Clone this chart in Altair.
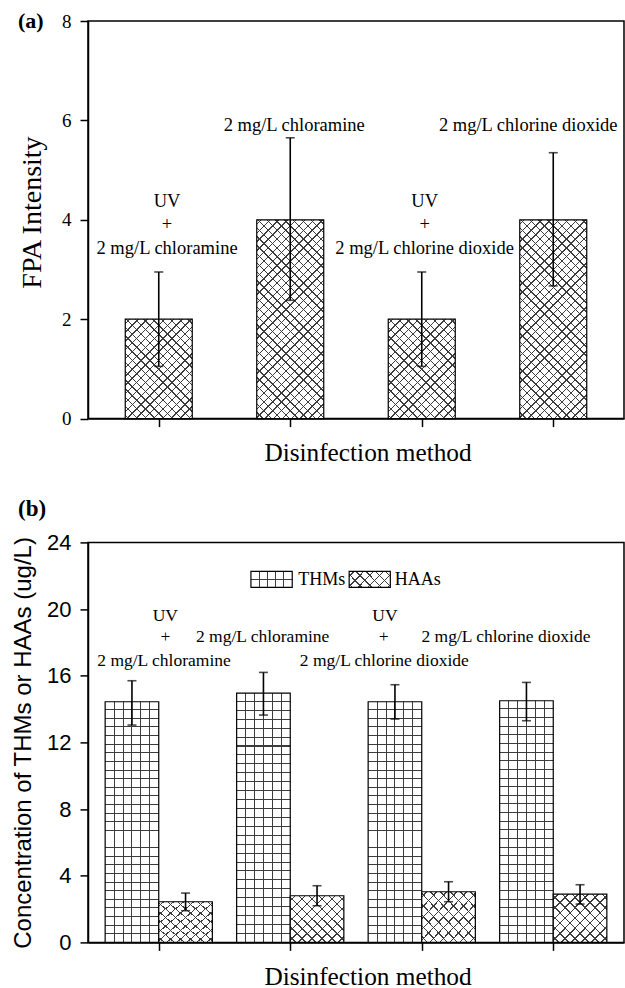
import math
import altair as alt
import pandas as pd

# ---------------- data ----------------
methods = ["UV + 2 mg/L chloramine", "2 mg/L chloramine",
           "UV + 2 mg/L chlorine dioxide", "2 mg/L chlorine dioxide"]
method_idx = [1, 2, 3, 4]

# panel (a): FPA intensity
fpa = [2.0, 4.0, 2.0, 4.0]
fpa_lo = [1.05, 2.38, 1.05, 2.67]
fpa_hi = [2.95, 5.65, 2.95, 5.35]

# panel (b): THMs and HAAs (ug/L)
thms = [14.44, 14.96, 14.44, 14.50]
thms_lo = [13.04, 13.64, 13.40, 13.30]
thms_hi = [15.70, 16.20, 15.46, 15.60]
haas = [2.44, 2.80, 3.04, 2.90]
haas_lo = [1.90, 2.20, 2.44, 2.30]
haas_hi = [2.96, 3.40, 3.64, 3.46]

# annotation texts
lab_text = ["UV", "+", "2 mg/L chloramine", "2 mg/L chloramine",
            "UV", "+", "2 mg/L chlorine dioxide", "2 mg/L chlorine dioxide"]
a_lab_x = [1.063, 1.063, 1.063, 2.03, 3.022, 3.022, 3.022, 3.81]
a_lab_y = [4.38, 3.91, 3.44, 5.90, 4.38, 3.91, 3.44, 5.90]
b_lab_x = [1.05, 1.05, 1.04, 1.79, 2.72, 2.71, 2.715, 3.64]
b_lab_y = [19.6, 18.3, 16.9, 18.3, 19.6, 18.3, 16.9, 18.3]

# legend (panel b)
leg_name = ["THMs", "HAAs"]
leg_x1 = [1.701, 2.448]
leg_x2 = [2.015, 2.761]
leg_y1 = [21.30, 21.30]
leg_y2 = [22.26, 22.26]
leg_tx = [2.06, 2.795]
leg_ty = [21.76, 21.76]

df_a = pd.DataFrame({"idx": method_idx, "method": methods, "v": fpa, "lo": fpa_lo, "hi": fpa_hi})
df_t = pd.DataFrame({"idx": method_idx, "method": methods, "v": thms, "lo": thms_lo, "hi": thms_hi})
df_h = pd.DataFrame({"idx": method_idx, "method": methods, "v": haas, "lo": haas_lo, "hi": haas_hi})
df_la = pd.DataFrame({"t": lab_text, "x": a_lab_x, "y": a_lab_y})
df_lb = pd.DataFrame({"t": lab_text, "x": b_lab_x, "y": b_lab_y})
df_leg = pd.DataFrame({"name": leg_name, "x1": leg_x1, "x2": leg_x2, "y1": leg_y1,
                       "y2": leg_y2, "tx": leg_tx, "ty": leg_ty})

# ---------------- hatch fills (gradient stripes) ----------------
INK = "#3c3c3c"
CLEAR = "rgba(255,255,255,0)"


def _stops(positions, t, bg):
    s = [{"offset": 0, "color": bg}]
    for p in positions:
        lo = round(max(p - t / 2, 0), 5)
        hi = round(min(p + t / 2, 1), 5)
        s += [{"offset": lo, "color": bg}, {"offset": lo, "color": INK},
              {"offset": hi, "color": INK}, {"offset": hi, "color": bg}]
    s.append({"offset": 1, "color": bg})
    return s


def diag_fills(w, h, period, lw=1.0):
    n = (w + h) / period
    L = (w + h) / math.sqrt(2)
    t = lw / L
    c = (w + h) / (w * w + h * h)
    a, b = c * w, c * h
    pos = []
    k = 0
    while (k + 0.5) / n < 1:
        pos.append((k + 0.5) / n)
        k += 1
    g1 = {"gradient": "linear", "x1": 0, "y1": 0, "x2": round(a, 5), "y2": round(b, 5),
          "stops": _stops(pos, t, "white")}
    g2 = {"gradient": "linear", "x1": 1, "y1": 0, "x2": round(1 - a, 5), "y2": round(b, 5),
          "stops": _stops(pos, t, CLEAR)}
    return g1, g2


def grid_fills(w, h, ncol, period, lw=1.0):
    vpos = [i / ncol for i in range(1, ncol)]
    g1 = {"gradient": "linear", "x1": 0, "y1": 0, "x2": 1, "y2": 0,
          "stops": _stops(vpos, lw / w, "white")}
    hpos = []
    k = 1
    while 1 - k * period / h > 0.01:
        hpos.append(1 - k * period / h)
        k += 1
    hpos = sorted(hpos)
    g2 = {"gradient": "linear", "x1": 0, "y1": 0, "x2": 0, "y2": 1,
          "stops": _stops(hpos, lw / h, CLEAR)}
    return g1, g2


SERIF = "Liberation Serif"
SANS = "Liberation Sans"
W = 536
HA = 397.6
HB = 400
STEP = W / 4.0

# ---------------- panel (a) ----------------
xa_axis = alt.Axis(values=[1, 2, 3, 4], labels=False, tickSize=8, title="Disinfection method",
                   titleFont=SERIF, titleFontSize=25.3, titleFontWeight="normal",
                   titlePadding=13, titleX=279.5)
ya_axis = alt.Axis(values=[0, 2, 4, 6, 8], tickSize=8, labelFont=SERIF, labelFontSize=19,
                   labelPadding=9, title="FPA Intensity", titleFont=SERIF, titleFontSize=28,
                   titleFontWeight="normal", titlePadding=15, titleY=191)


def XA(field="idx"):
    return alt.X(f"{field}:Q", scale=alt.Scale(domain=[0.5, 4.5], nice=False), axis=xa_axis,
                 title="Disinfection method")


def YA(field="v"):
    return alt.Y(f"{field}:Q", scale=alt.Scale(domain=[0, 8], nice=False), axis=ya_axis,
                 title="FPA Intensity")


bw_a = 0.5 * STEP
layers_a = []
for val in [2.0, 4.0]:
    g1, g2 = diag_fills(bw_a, val / 8 * HA, 8.8)
    sub = alt.Chart(df_a).transform_filter(f"datum.v == {val}")
    layers_a.append(sub.mark_bar(width=bw_a, fill=g1, strokeWidth=0).encode(x=XA(), y=YA()))
    layers_a.append(sub.mark_bar(width=bw_a, fill=g2, stroke="black", strokeWidth=1.2)
                    .encode(x=XA(), y=YA()))

base_a = alt.Chart(df_a)
layers_a.append(base_a.mark_rule(color="black", strokeWidth=1.6)
                .encode(x=XA(), y=YA("lo"), y2="hi:Q"))
layers_a.append(base_a.mark_tick(orient="horizontal", size=9, thickness=1.6, color="black")
                .encode(x=XA(), y=YA("lo")))
layers_a.append(base_a.mark_tick(orient="horizontal", size=9, thickness=1.6, color="black")
                .encode(x=XA(), y=YA("hi")))
layers_a.append(alt.Chart(df_la).mark_text(font=SERIF, fontSize=18.5, color="black",
                                            baseline="middle", align="center")
                .encode(x=XA("x"), y=YA("y"), text="t:N"))
layers_a.append(alt.Chart(pd.DataFrame({"t": ["(a)"]}))
                .mark_text(font=SERIF, fontSize=22, fontWeight="bold", align="left",
                           baseline="middle", color="black")
                .encode(x=alt.value(-70), y=alt.value(0), text="t:N"))

panel_a = alt.layer(*layers_a).properties(width=W, height=HA)

# ---------------- panel (b) ----------------
xb_axis = alt.Axis(values=[1, 2, 3, 4], labels=False, tickSize=8, title="Disinfection method",
                   titleFont=SERIF, titleFontSize=25.3, titleFontWeight="normal",
                   titlePadding=13, titleX=279.5)
yb_axis = alt.Axis(values=[0, 4, 8, 12, 16, 20, 24], tickSize=8, labelFont=SANS,
                   labelFontSize=22, labelPadding=9,
                   title="Concentration of THMs or HAAs (ug/L)", titleFont=SANS,
                   titleFontSize=24, titleFontWeight="normal", titlePadding=11)


def XB(field="idx"):
    return alt.X(f"{field}:Q", scale=alt.Scale(domain=[0.5, 4.5], nice=False), axis=xb_axis,
                 title="Disinfection method")


def YB(field="v"):
    return alt.Y(f"{field}:Q", scale=alt.Scale(domain=[0, 24], nice=False), axis=yb_axis,
                 title="Concentration of THMs or HAAs (ug/L)")


bw_b = 0.4 * STEP
off = bw_b / 2
tg1, tg2 = grid_fills(bw_b, 243, 6, 8.7)
hg1, hg2 = diag_fills(bw_b, 47, 10.0)
layers_b = []
bt = alt.Chart(df_t)
bh = alt.Chart(df_h)
layers_b.append(bt.mark_bar(width=bw_b, xOffset=-off, fill=tg1, strokeWidth=0)
                .encode(x=XB(), y=YB()))
layers_b.append(bt.mark_bar(width=bw_b, xOffset=-off, fill=tg2, stroke="black", strokeWidth=1.2)
                .encode(x=XB(), y=YB()))
layers_b.append(bh.mark_bar(width=bw_b, xOffset=off, fill=hg1, strokeWidth=0)
                .encode(x=XB(), y=YB()))
layers_b.append(bh.mark_bar(width=bw_b, xOffset=off, fill=hg2, stroke="black", strokeWidth=1.2)
                .encode(x=XB(), y=YB()))
for src, o in [(bt, -off), (bh, off)]:
    layers_b.append(src.mark_rule(color="black", strokeWidth=1.6, xOffset=o)
                    .encode(x=XB(), y=YB("lo"), y2="hi:Q"))
    layers_b.append(src.mark_tick(orient="horizontal", size=9, thickness=1.6, color="black",
                                  xOffset=o).encode(x=XB(), y=YB("lo")))
    layers_b.append(src.mark_tick(orient="horizontal", size=9, thickness=1.6, color="black",
                                  xOffset=o).encode(x=XB(), y=YB("hi")))

# legend
lg_t1, lg_t2 = grid_fills(42, 16, 5, 8.0)
lg_h1, lg_h2 = diag_fills(42, 16, 10.0)
leg = alt.Chart(df_leg)
for name, f1, f2 in [("THMs", lg_t1, lg_t2), ("HAAs", lg_h1, lg_h2)]:
    sub = leg.transform_filter(f"datum.name == '{name}'")
    layers_b.append(sub.mark_rect(fill=f1, strokeWidth=0)
                    .encode(x=XB("x1"), x2="x2:Q", y=YB("y1"), y2="y2:Q"))
    layers_b.append(sub.mark_rect(fill=f2, stroke="black", strokeWidth=1.2)
                    .encode(x=XB("x1"), x2="x2:Q", y=YB("y1"), y2="y2:Q"))
layers_b.append(leg.mark_text(font=SERIF, fontSize=18, align="left", baseline="middle",
                              color="black")
                .encode(x=XB("tx"), y=YB("ty"), text="name:N"))

layers_b.append(alt.Chart(df_lb).mark_text(font=SERIF, fontSize=17.5, color="black",
                                            baseline="middle", align="center")
                .encode(x=XB("x"), y=YB("y"), text="t:N"))
layers_b.append(alt.Chart(pd.DataFrame({"t": ["(b)"]}))
                .mark_text(font=SERIF, fontSize=23, fontWeight="bold", align="left",
                           baseline="middle", color="black")
                .encode(x=alt.value(-70), y=alt.value(-33), text="t:N"))

panel_b = alt.layer(*layers_b).properties(width=W, height=HB)

chart = (
    alt.vconcat(panel_a, panel_b, spacing=123.4, bounds="flush")
    .properties(padding={"left": 10, "top": 9, "right": 0, "bottom": 0}, background="white")
    .configure_view(stroke="black", strokeWidth=1.5)
    .configure_axis(domainColor="black", domainWidth=1.5, tickColor="black", tickWidth=1.5,
                    labelColor="black", titleColor="black", grid=False)
)

chart.save("out.html", embed_options={"renderer": "svg", "actions": False})
